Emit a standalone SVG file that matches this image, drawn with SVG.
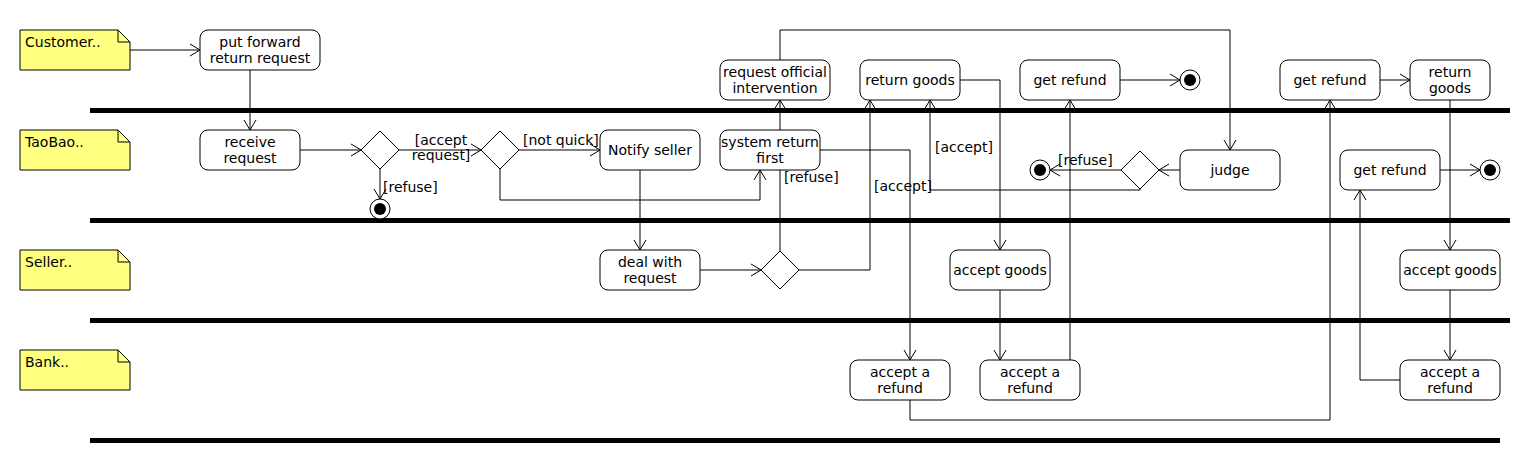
<svg xmlns="http://www.w3.org/2000/svg" width="1530" height="470" viewBox="0 0 1530 470">
<style>
text{font-family:"DejaVu Sans","Liberation Sans",sans-serif;font-size:14px;fill:#000}
.act rect{fill:#fff;stroke:#000;stroke-width:1}
.act text{text-anchor:middle}
.note path.b{fill:#FFFF80;stroke:#000;stroke-width:1}
.note path.f{fill:none;stroke:#000;stroke-width:1}
.dec polygon{fill:#fff;stroke:#000;stroke-width:1}
.fin circle.o{fill:#fff;stroke:#000;stroke-width:1}
.fin circle.i{fill:#000}
.bar{fill:#000}
#connectors path{fill:none;stroke:#000;stroke-width:1;marker-end:url(#arr)}
</style>
<defs>
<marker id="arr" markerUnits="userSpaceOnUse" orient="auto" markerWidth="24" markerHeight="24" refX="12" refY="12" viewBox="0 0 24 24">
<path d="M2,6 L12,12 L2,18" fill="none" stroke="#000" stroke-width="1"/>
</marker>
</defs>
<rect width="1530" height="470" fill="#fff"/>
<g id="swimlane-bars">
<rect class="bar" x="90" y="108" width="1420" height="5"/>
<rect class="bar" x="90" y="218" width="1420" height="5"/>
<rect class="bar" x="90" y="318" width="1420" height="5"/>
<rect class="bar" x="90" y="438" width="1410" height="5"/>
</g>
<g id="note-customer" class="note"><path class="b" d="M20,30 H118 L130,42 V70 H20 Z"/><path class="f" d="M118,30 V42 H130"/><text x="25" y="47">Customer..</text></g>
<g id="note-taobao" class="note"><path class="b" d="M20,130 H118 L130,142 V170 H20 Z"/><path class="f" d="M118,130 V142 H130"/><text x="25" y="147">TaoBao..</text></g>
<g id="note-seller" class="note"><path class="b" d="M20,250 H118 L130,262 V290 H20 Z"/><path class="f" d="M118,250 V262 H130"/><text x="25" y="267">Seller..</text></g>
<g id="note-bank" class="note"><path class="b" d="M20,350 H118 L130,362 V390 H20 Z"/><path class="f" d="M118,350 V362 H130"/><text x="25" y="367">Bank..</text></g>

<g id="connectors">
<path d="M130,50 H200"/>
<path d="M250,70 V130"/>
<path d="M300,150 H361"/>
<path d="M399,150 H481"/>
<path d="M380,169 V199"/>
<path d="M519,150 H600"/>
<path d="M500,169 V200 H760 V170"/>
<path d="M640,170 V250"/>
<path d="M700,270 H761"/>
<path d="M780,251 V100"/>
<path d="M799,270 H870 V100"/>
<path d="M820,150 H910 V360"/>
<path d="M960,80 H1000 V250"/>
<path d="M1000,290 V360"/>
<path d="M1070,360 V100"/>
<path d="M1120,80 H1180"/>
<path d="M780,60 V30 H1230 V150"/>
<path d="M1180,170 H1159"/>
<path d="M1121,170 H1050"/>
<path d="M1140,189 V190 H930 V100"/>
<path d="M1380,80 H1410"/>
<path d="M910,400 V420 H1330 V100"/>
<path d="M1450,100 V250"/>
<path d="M1450,290 V360"/>
<path d="M1400,380 H1360 V190"/>
<path d="M1440,170 H1480"/>
</g>
<g id="connector-labels">
<text x="441" y="145" text-anchor="middle">[accept</text>
<text x="441" y="160" text-anchor="middle">request]</text>
<text x="383" y="192">[refuse]</text>
<text x="523" y="145">[not quick]</text>
<text x="784" y="182">[refuse]</text>
<text x="874" y="191">[accept]</text>
<text x="935" y="152">[accept]</text>
<text x="1058" y="165">[refuse]</text>
</g>

<g id="put-forward" class="act"><rect x="200" y="30" width="120" height="40" rx="8"/><text x="260" y="47">put forward</text><text x="260" y="63">return request</text></g>
<g id="receive-request" class="act"><rect x="200" y="130" width="100" height="40" rx="8"/><text x="250" y="147">receive</text><text x="250" y="163">request</text></g>
<g id="decision-1" class="dec"><polygon points="380,131 399,150 380,169 361,150"/></g>
<g id="final-1" class="fin"><circle class="o" cx="380" cy="209" r="10"/><circle class="i" cx="380" cy="209" r="6"/></g>
<g id="decision-2" class="dec"><polygon points="500,131 519,150 500,169 481,150"/></g>
<g id="notify-seller" class="act"><rect x="600" y="130" width="100" height="40" rx="8"/><text x="650" y="155">Notify seller</text></g>
<g id="system-return" class="act"><rect x="720" y="130" width="100" height="40" rx="8"/><text x="770" y="147">system return</text><text x="770" y="163">first</text></g>
<g id="request-official" class="act"><rect x="720" y="60" width="110" height="40" rx="8"/><text x="775" y="77">request official</text><text x="775" y="93">intervention</text></g>
<g id="return-goods-1" class="act"><rect x="860" y="60" width="100" height="40" rx="8"/><text x="910" y="85">return goods</text></g>
<g id="deal-with-request" class="act"><rect x="600" y="250" width="100" height="40" rx="8"/><text x="650" y="267">deal with</text><text x="650" y="283">request</text></g>
<g id="decision-3" class="dec"><polygon points="780,251 799,270 780,289 761,270"/></g>
<g id="accept-goods-1" class="act"><rect x="950" y="250" width="100" height="40" rx="8"/><text x="1000" y="275">accept goods</text></g>
<g id="accept-refund-1" class="act"><rect x="850" y="360" width="100" height="40" rx="8"/><text x="900" y="377">accept a</text><text x="900" y="393">refund</text></g>
<g id="accept-refund-2" class="act"><rect x="980" y="360" width="100" height="40" rx="8"/><text x="1030" y="377">accept a</text><text x="1030" y="393">refund</text></g>
<g id="get-refund-1" class="act"><rect x="1020" y="60" width="100" height="40" rx="8"/><text x="1070" y="85">get refund</text></g>
<g id="final-2" class="fin"><circle class="o" cx="1190" cy="80" r="10"/><circle class="i" cx="1190" cy="80" r="6"/></g>
<g id="judge" class="act"><rect x="1180" y="150" width="100" height="40" rx="8"/><text x="1230" y="175">judge</text></g>
<g id="decision-4" class="dec"><polygon points="1140,151 1159,170 1140,189 1121,170"/></g>
<g id="final-3" class="fin"><circle class="o" cx="1040" cy="170" r="10"/><circle class="i" cx="1040" cy="170" r="6"/></g>
<g id="get-refund-2" class="act"><rect x="1280" y="60" width="100" height="40" rx="8"/><text x="1330" y="85">get refund</text></g>
<g id="return-goods-2" class="act"><rect x="1410" y="60" width="80" height="40" rx="8"/><text x="1450" y="77">return</text><text x="1450" y="93">goods</text></g>
<g id="get-refund-3" class="act"><rect x="1340" y="150" width="100" height="40" rx="8"/><text x="1390" y="175">get refund</text></g>
<g id="final-4" class="fin"><circle class="o" cx="1490" cy="170" r="10"/><circle class="i" cx="1490" cy="170" r="6"/></g>
<g id="accept-goods-2" class="act"><rect x="1400" y="250" width="100" height="40" rx="8"/><text x="1450" y="275">accept goods</text></g>
<g id="accept-refund-3" class="act"><rect x="1400" y="360" width="100" height="40" rx="8"/><text x="1450" y="377">accept a</text><text x="1450" y="393">refund</text></g>
</svg>
